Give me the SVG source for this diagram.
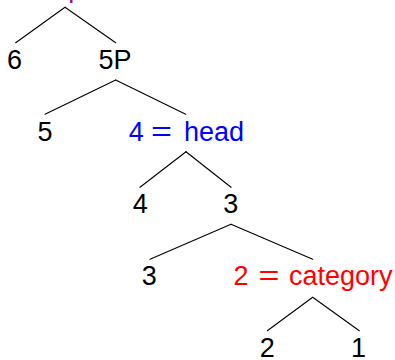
<svg xmlns="http://www.w3.org/2000/svg" width="395" height="360" viewBox="0 0 395 360">
<style>
text{font-family:"Liberation Sans",Arial,sans-serif;font-size:27px;fill:#000}
.c{text-anchor:middle}
.blue{fill:#0000ff}
.red{fill:#ff0000}
.purple{fill:#a000a0}
#edges line{stroke:#000;stroke-width:1.1;stroke-linecap:round}
</style>
<rect width="395" height="360" fill="#fff"/>
<g id="edges">
<line x1="65" y1="7.3" x2="15.7" y2="42.7"/>
<line x1="65" y1="7.3" x2="115.7" y2="42.7"/>
<line x1="115.7" y1="80" x2="45" y2="114.3"/>
<line x1="115.7" y1="80" x2="185.7" y2="114.3"/>
<line x1="186" y1="151.7" x2="140" y2="187.3"/>
<line x1="186" y1="151.7" x2="231" y2="187.3"/>
<line x1="231" y1="224.3" x2="150" y2="259.3"/>
<line x1="231" y1="224.3" x2="312.7" y2="259.3"/>
<line x1="312.7" y1="297.3" x2="267.3" y2="330.7"/>
<line x1="312.7" y1="297.3" x2="359.3" y2="330.7"/>
</g>
<g id="root"><text class="purple" x="68.3" y="-3.3">p</text></g>
<g id="n6"><text class="c" x="14.5" y="68.5">6</text></g>
<g id="n5P"><text class="c" x="115" y="68.5">5P</text></g>
<g id="n5"><text class="c" x="45" y="140.8">5</text></g>
<g id="n4head"><text class="blue"><tspan x="128.7" y="140.8">4</tspan> <tspan x="151" y="140.8" textLength="21" lengthAdjust="spacingAndGlyphs">=</tspan> <tspan x="184" y="140.8">head</tspan></text></g>
<g id="n4"><text class="c" x="140.3" y="213">4</text></g>
<g id="n3a"><text class="c" x="230.8" y="213">3</text></g>
<g id="n3b"><text class="c" x="149.3" y="285.2">3</text></g>
<g id="n2cat"><text class="red"><tspan x="233.4" y="285.2">2</tspan> <tspan x="258.5" y="285.2" textLength="21" lengthAdjust="spacingAndGlyphs">=</tspan> <tspan x="289" y="285.2">category</tspan></text></g>
<g id="n2"><text class="c" x="267.3" y="357.4">2</text></g>
<g id="n1"><text class="c" x="358.5" y="357.4">1</text></g>
</svg>
